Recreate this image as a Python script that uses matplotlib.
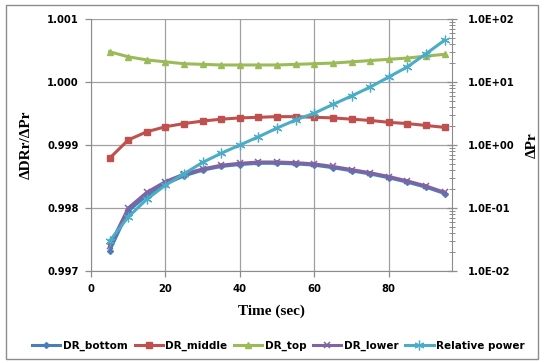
import matplotlib
matplotlib.use("Agg")
import matplotlib.pyplot as plt
import numpy as np
from matplotlib.patches import Rectangle
from matplotlib.ticker import FixedLocator, LogLocator, NullFormatter

time = [5, 10, 15, 20, 25, 30, 35, 40, 45, 50, 55, 60, 65, 70, 75, 80, 85, 90, 95]
dr_bottom = [0.99732, 0.99795, 0.99820, 0.99838, 0.99851, 0.99860, 0.99866, 0.99869, 0.99871,
             0.99871, 0.99870, 0.99868, 0.99864, 0.99859, 0.99854, 0.99848, 0.99841, 0.99833, 0.99823]
dr_middle = [0.99879, 0.99908, 0.99921, 0.99929, 0.99934, 0.99938, 0.99941, 0.99943, 0.99944,
             0.99945, 0.99945, 0.99944, 0.99943, 0.99941, 0.99939, 0.99936, 0.99934, 0.99931, 0.99928]
dr_top = [1.00048, 1.00040, 1.00035, 1.00032, 1.00029, 1.00028, 1.00027, 1.00027, 1.00027,
          1.00027, 1.00028, 1.00029, 1.00030, 1.00032, 1.00034, 1.00036, 1.00038, 1.00041, 1.00044]
dr_lower = [0.99740, 0.99800, 0.99825, 0.99842, 0.99854, 0.99862, 0.99868, 0.99871, 0.99873,
            0.99873, 0.99872, 0.99870, 0.99866, 0.99861, 0.99856, 0.99850, 0.99843, 0.99835, 0.99825]
relative_power = [0.030, 0.072, 0.138, 0.23, 0.35, 0.53, 0.74, 1.0, 1.35,
                  1.86, 2.5, 3.2, 4.4, 6.0, 8.3, 12.0, 17.4, 28.0, 46.0]

left_ticks = [0.997, 0.998, 0.999, 1.000, 1.001]
right_ticks = [0.01, 0.1, 1, 10, 100]
right_labels = ["1.0E-02", "1.0E-01", "1.0E+00", "1.0E+01", "1.0E+02"]
x_ticks = [0, 20, 40, 60, 80]

c_bottom = "#4A7EBB"
c_middle = "#C0504D"
c_top = "#9BBB59"
c_lower = "#8064A2"
c_rel = "#4BACC6"
grid_c = "#A0A0A0"

fig = plt.figure(figsize=(5.44, 3.63), dpi=100)
fig.patches.append(Rectangle((0.011, 0.012), 0.978, 0.975, transform=fig.transFigure,
                             fill=False, edgecolor="#8C8C8C", linewidth=1.0))

ax = fig.add_axes([0.1673, 0.2534, 0.6636, 0.6943])
tick_font = dict(fontfamily="DejaVu Sans", fontweight="bold", fontsize=7.2)

lw = 2.2
ms = 4.0
ax.plot(time, dr_bottom, color=c_bottom, lw=lw, marker="D", ms=3.0, label="DR_bottom", zorder=3)
ax.plot(time, dr_middle, color=c_middle, lw=lw, marker="s", ms=ms, label="DR_middle", zorder=3)
ax.plot(time, dr_top, color=c_top, lw=lw, marker="^", ms=ms + 0.3, label="DR_top", zorder=3)
ax.plot(time, dr_lower, color=c_lower, lw=lw, marker="x", ms=ms, mew=1.1, label="DR_lower", zorder=3)

ax.set_xlim(0, 97)
ax.set_ylim(0.997, 1.001)
ax.set_yticks(left_ticks)
ax.set_yticklabels([f"{v:.3f}" for v in left_ticks], **tick_font)
ax.set_xticks(x_ticks)
ax.set_xticklabels([str(v) for v in x_ticks], **tick_font)
ax.grid(True, color=grid_c, lw=0.9)
ax.set_axisbelow(True)
for s in ["top", "right"]:
    ax.spines[s].set_visible(False)
for s in ["left", "bottom"]:
    ax.spines[s].set_color("#8C8C8C")
ax.tick_params(axis="both", colors="#8C8C8C", labelcolor="black", length=4, width=0.9, pad=5)

ax.set_xlabel("Time (sec)", fontfamily="Liberation Serif", fontweight="bold", fontsize=11, labelpad=8)
ax.set_ylabel("ΔDRr/ΔPr", fontfamily="Liberation Serif", fontweight="bold", fontsize=11, labelpad=10)

ax2 = ax.twinx()
ax2.set_yscale("log")
ax2.set_ylim(0.01, 100)
ax2.plot(time, relative_power, color=c_rel, lw=lw, marker=(6, 2, 0), ms=7, mew=0.9,
         label="Relative power", zorder=4)
ax2.yaxis.set_major_locator(FixedLocator(right_ticks))
ax2.set_yticklabels(right_labels, **tick_font)
ax2.yaxis.set_minor_locator(LogLocator(base=10, subs=np.arange(2, 10)))
ax2.yaxis.set_minor_formatter(NullFormatter())
for s in ["top", "left", "bottom"]:
    ax2.spines[s].set_visible(False)
ax2.spines["right"].set_color("#8C8C8C")
ax2.tick_params(axis="y", which="major", colors="#8C8C8C", labelcolor="black",
                direction="inout", length=7, width=0.9, pad=8)
ax2.tick_params(axis="y", which="minor", colors="#8C8C8C", direction="inout", length=5, width=0.7)
ax2.set_ylabel("ΔPr", fontfamily="Liberation Serif", fontweight="bold", fontsize=11, labelpad=8)

h1, l1 = ax.get_legend_handles_labels()
h2, l2 = ax2.get_legend_handles_labels()
leg = fig.legend(h1 + h2, l1 + l2, loc="center", bbox_to_anchor=(0.512, 0.047), ncol=5,
                 frameon=False, handlelength=2.7, handletextpad=0.25, columnspacing=0.65,
                 prop=dict(family="DejaVu Sans", weight="bold", size=7.5))

fig.savefig("out.png", dpi=100)
